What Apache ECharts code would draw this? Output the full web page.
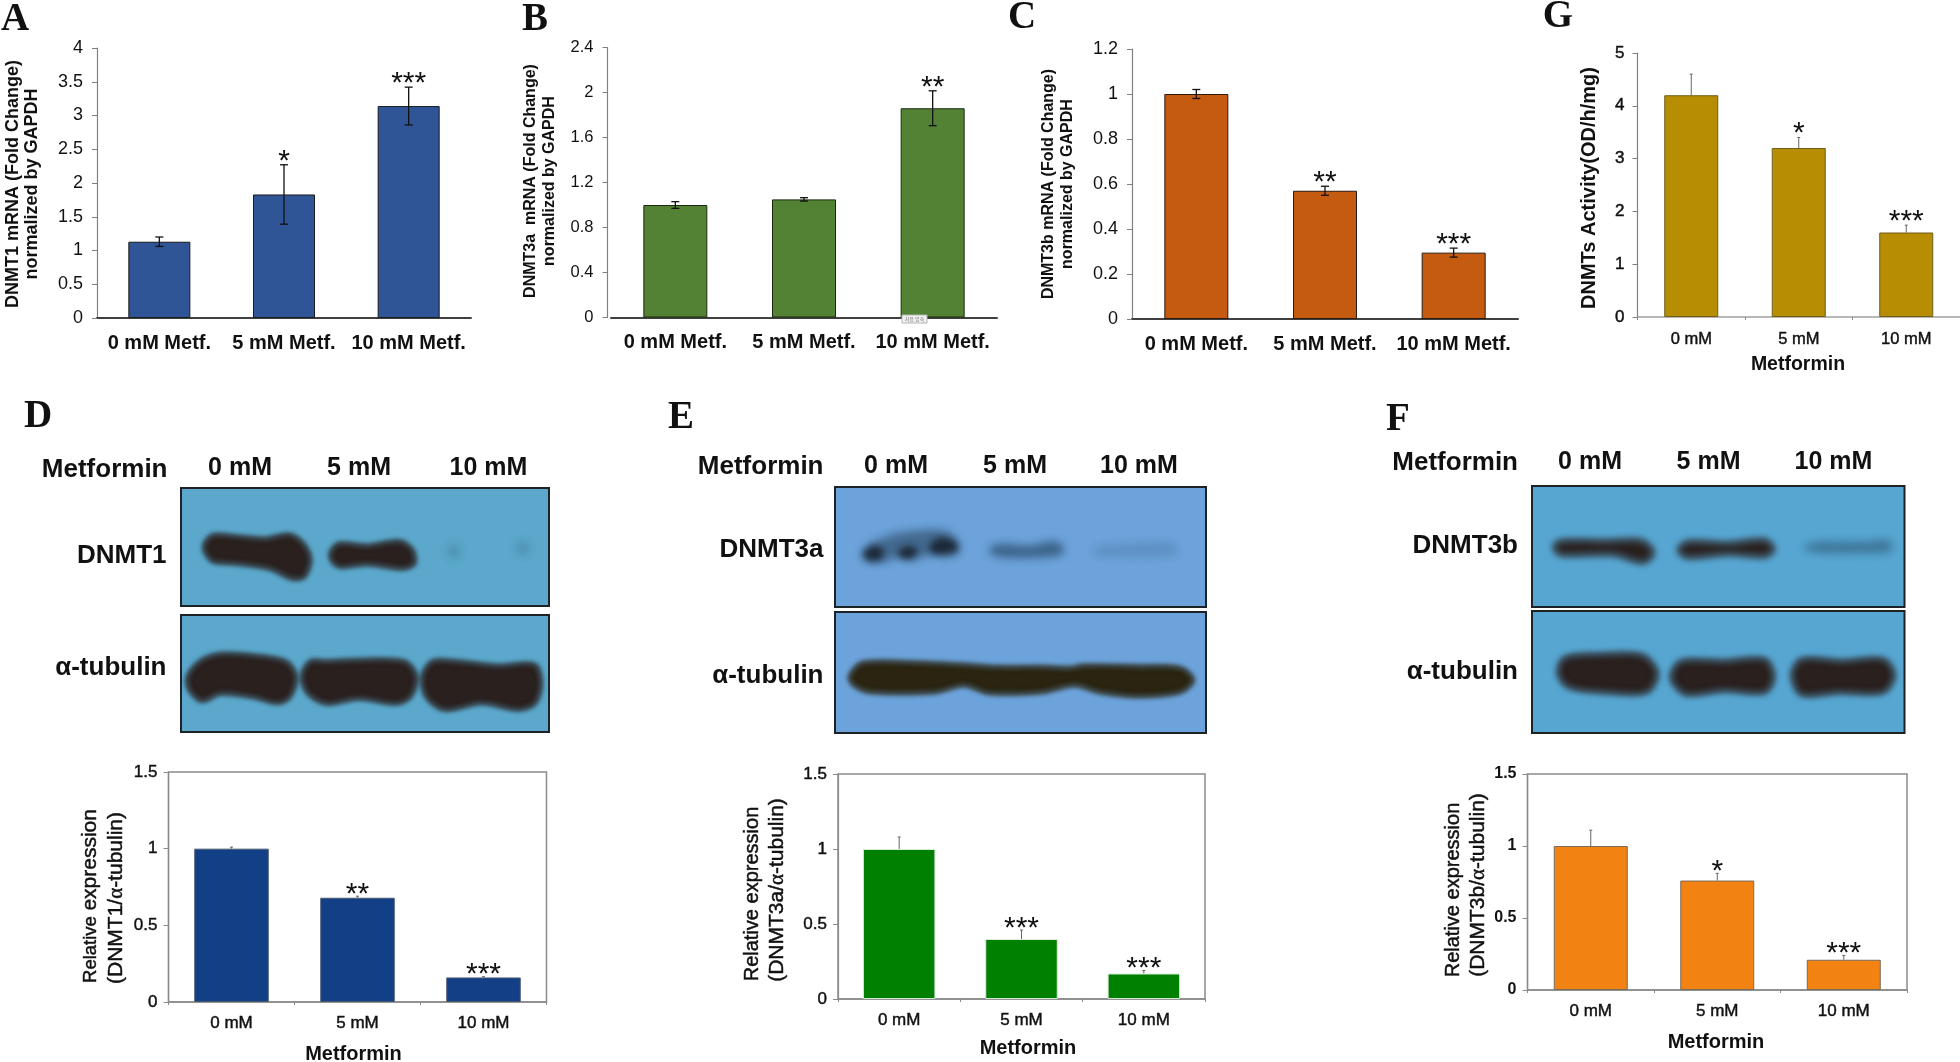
<!DOCTYPE html>
<html><head><meta charset="utf-8">
<style>html,body{margin:0;padding:0;background:#fff}#c{width:1960px;height:1062px}</style>
<script src="https://cdn.jsdelivr.net/npm/echarts@6/dist/echarts.min.js"></script>
</head><body><div id="c"></div>
<script>
// ---- data ----
const catsMetf = ['0 mM Metf.', '5 mM Metf.', '10 mM Metf.'];
const catsMM = ['0 mM', '5 mM', '10 mM'];
const valuesA = [1.13, 1.83, 3.14];
const errorsA = [0.07, 0.44, 0.28];
const starsA = ['', '*', '***'];
const valuesB = [1.0, 1.05, 1.86];
const errorsB = [0.03, 0.015, 0.155];
const starsB = ['', '', '**'];
const valuesC = [1.0, 0.57, 0.295];
const errorsC = [0.02, 0.02, 0.02];
const starsC = ['', '**', '***'];
const valuesG = [4.2, 3.2, 1.6];
const errorsG = [0.4, 0.2, 0.14];
const starsG = ['', '*', '***'];
const valuesD = [1.0, 0.68, 0.16];
const errorsD = [0.01, 0.01, 0.005];
const starsD = ['', '**', '***'];
const valuesE = [1.0, 0.40, 0.17];
const errorsE = [0.08, 0.06, 0.02];
const starsE = ['', '***', '***'];
const valuesF = [1.0, 0.76, 0.21];
const errorsF = [0.11, 0.05, 0.03];
const starsF = ['', '*', '***'];

const SANS = '"Liberation Sans", Arial, sans-serif';
const SERIF = '"Liberation Serif", "Times New Roman", serif';
const SEMI = 0.45;

const panels = [
 {cats:catsMetf,v:valuesA,e:errorsA,s:starsA,l:97,t:48,w:374,h:270,max:4,step:0.5,color:'#2F5597',bw:62,border:'#1a1a1a',both:true,capH:4,errC:'#111',errW:1.3,gap:10,
  lab:{size:20,weight:'bold',margin:15},tick:{size:18,margin:14},box:false,xTick:false,xLine:{c:'#404040',w:2},yLine:'#808080',yOff:0},
 {cats:catsMetf,v:valuesB,e:errorsB,s:starsB,l:611,t:47.5,w:386,h:270,max:2.4,step:0.4,color:'#548235',bw:64,border:'#1a2a10',both:true,capH:4,errC:'#111',errW:1.3,gap:10,
  lab:{size:20,weight:'bold',margin:15},tick:{size:16.5,margin:14},box:false,xTick:false,xLine:{c:'#404040',w:2},yLine:'#808080',yOff:3.5},
 {cats:catsMetf,v:valuesC,e:errorsC,s:starsC,l:1132,t:49,w:386,h:270,max:1.2,step:0.2,color:'#C55A11',bw:64,border:'#2a1a10',both:true,capH:4,errC:'#111',errW:1.3,gap:10,
  lab:{size:20,weight:'bold',margin:15},tick:{size:18,margin:14},box:false,xTick:false,xLine:{c:'#404040',w:2},yLine:'#808080',yOff:0},
 {cats:catsMM,v:valuesG,e:errorsG,s:starsG,l:1637.5,t:53,w:322.5,h:264,max:5,step:1,color:'#B78E03',bw:54,border:'#6d5c1a',both:false,capH:1.5,errC:'#666',errW:1,gap:10,
  lab:{size:16.5,weight:'normal',margin:14,semi:true},tick:{size:17,margin:13,semi:true},box:false,xTick:true,xLine:{c:'#a0a0a0',w:1.5},yLine:'#808080',yOff:0},
 {cats:catsMM,v:valuesD,e:errorsD,s:starsD,l:168.5,t:772,w:378,h:230,max:1.5,step:0.5,color:'#123F86',bw:74.5,border:'#4a5a70',both:false,capH:1.5,errC:'#666',errW:1,gap:8,
  lab:{size:17,weight:'normal',margin:13,semi:true},tick:{size:17,margin:11,semi:true},box:true,xTick:true,xLine:{c:'#8a8a8a',w:1.5},yLine:'#8a8a8a',yOff:0},
 {cats:catsMM,v:valuesE,e:errorsE,s:starsE,l:838,t:774,w:367,h:225,max:1.5,step:0.5,color:'#008000',bw:72.5,border:'#d8ead8',both:false,capH:1.5,errC:'#666',errW:1,gap:8,
  lab:{size:17,weight:'normal',margin:13,semi:true},tick:{size:17,margin:11,semi:true},box:true,xTick:true,xLine:{c:'#8a8a8a',w:1.5},yLine:'#8a8a8a',yOff:0},
 {cats:catsMM,v:valuesF,e:errorsF,s:starsF,l:1527.5,t:774,w:379.5,h:216,max:1.5,step:0.5,color:'#F28212',bw:74,border:'#7a6a5a',both:false,capH:1.5,errC:'#666',errW:1,gap:8,
  lab:{size:17,weight:'normal',margin:13,semi:true},tick:{size:16,margin:11,weight:'bold'},box:true,xTick:true,xLine:{c:'#8a8a8a',w:1.5},yLine:'#8a8a8a',yOff:0}
];

const grid=[],xAxis=[],yAxis=[],series=[];
panels.forEach((p,i)=>{
  grid.push({left:p.l,top:p.t,width:p.w,height:p.h,containLabel:false,outerBoundsMode:'none',
    show:p.box,borderColor:'#8a8a8a',borderWidth:1.5,backgroundColor:'transparent'});
  xAxis.push({type:'category',gridIndex:i,data:p.cats,
    axisLine:{show:true,lineStyle:{color:p.xLine.c,width:p.xLine.w}},
    axisTick:{show:p.xTick,length:3,lineStyle:{color:'#8a8a8a'},alignWithLabel:false},
    axisLabel:{interval:0,margin:p.lab.margin,color:'#111',fontFamily:SANS,fontSize:p.lab.size,fontWeight:p.lab.weight,
      textBorderColor:'#111',textBorderWidth:p.lab.semi?SEMI:0},
    splitLine:{show:false}});
  yAxis.push({type:'value',gridIndex:i,min:0,max:p.max,interval:p.step,offset:p.yOff,
    axisLine:{show:true,lineStyle:{color:p.yLine,width:1.2}},
    axisTick:{show:true,length:5,lineStyle:{color:p.yLine}},
    axisLabel:{margin:p.tick.margin,color:'#111',fontFamily:SANS,fontSize:p.tick.size,fontWeight:p.tick.weight||'normal',showMinLabel:true,showMaxLabel:true,hideOverlap:false,
      textBorderColor:'#111',textBorderWidth:p.tick.semi?SEMI:0,
      formatter:v=>String(+v.toFixed(1))},
    splitLine:{show:false}});
  series.push({type:'bar',xAxisIndex:i,yAxisIndex:i,data:p.v,barWidth:p.bw,silent:true,animation:false,
    itemStyle:{color:p.color,borderColor:p.border,borderWidth:1}});
  series.push({type:'custom',xAxisIndex:i,yAxisIndex:i,z:5,silent:true,animation:false,
    data:p.v.map((v,k)=>[k,v,p.e[k]]),encode:{x:0,y:1},
    renderItem:(params,api)=>{
      const k=api.value(0),v=api.value(1),e=api.value(2);
      const top=api.coord([k,v+e]);
      const low=api.coord([k,p.both?v-e:v]);
      const x=top[0];
      const ls={stroke:p.errC,lineWidth:p.errW};
      const kids=[{type:'line',shape:{x1:x,y1:top[1],x2:x,y2:low[1]},style:ls},
        {type:'line',shape:{x1:x-p.capH,y1:top[1],x2:x+p.capH,y2:top[1]},style:ls}];
      if(p.both)kids.push({type:'line',shape:{x1:x-p.capH,y1:low[1],x2:x+p.capH,y2:low[1]},style:ls});
      const st=p.s[params.dataIndex];
      if(st)kids.push({type:'text',style:{text:st,x:x,y:top[1]-p.gap+6.5,align:'center',verticalAlign:'middle',
        font:'30px '+SANS,fill:'#111'}});
      return {type:'group',children:kids};
    }});
});

// ---- decoration and free text ----
const g=[];
function txt(text,x,y,size,o){o=o||{};const st={text:text,
  align:o.align||'center',verticalAlign:'middle',font:(o.weight||'normal')+' '+size+'px '+(o.family||SANS),fill:o.fill||'#111',rich:o.rich};
  if(o.semi){st.stroke='#111';st.lineWidth=SEMI;}
  g.push({type:'text',x:x,y:y,rotation:o.rot||0,z:20,silent:true,style:st});}
const R=Math.PI/2;
// panel letters
[['A',15,20],['B',535,20],['C',1022,18],['G',1558,17],['D',38,417],['E',681,418],['F',1398,420]].forEach(a=>
  txt(a[0],a[1],a[2],39,{weight:'bold',family:SERIF}));
// y titles of A-C, G
txt('DNMT1 mRNA (Fold Change)',13,184,18,{rot:R,weight:'bold'});
txt('normalized by GAPDH',32,184,18,{rot:R,weight:'bold'});
txt('DNMT3a  mRNA (Fold Change)',531,181,16,{rot:R,weight:'bold'});
txt('normalized by GAPDH',550,181,16,{rot:R,weight:'bold'});
txt('DNMT3b mRNA (Fold Change)',1049,184,16,{rot:R,weight:'bold'});
txt('normalized by GAPDH',1068,184,16,{rot:R,weight:'bold'});
txt('DNMTs Activity(OD/h/mg)',1589,188,20,{rot:R,weight:'bold'});
// x titles
txt('Metformin',1798,365,19.5,{weight:'bold'});
txt('Metformin',353.5,1054,20,{weight:'bold'});
txt('Metformin',1028,1048,20,{weight:'bold'});
txt('Metformin',1716,1042,20,{weight:'bold'});
// y titles of D-F
const semiRich=(fam,s)=>({fontFamily:fam,fontSize:s,fill:'#111',stroke:'#111',lineWidth:SEMI});
const richD={s:semiRich(SANS,18.5),b:semiRich(SANS,21),a:semiRich(SERIF,21)};
const richL={b:semiRich(SANS,20)};
txt('{s|Relative} {b|expression}',90.5,896,20,{rot:R,rich:richD});
txt('{b|(DNMT1/}{a|α}{b|-tubulin)}',116,898,20,{rot:R,rich:richD});
txt('{b|Relative expression}',752,894,20,{rot:R,rich:richL});
txt('{b|(DNMT3a/}{a|α}{b|-tubulin)}',777,890,20,{rot:R,rich:richD});
txt('{b|Relative expression}',1453.5,890,20,{rot:R,rich:richL});
txt('{b|(DNMT3b/}{a|α}{b|-tubulin)}',1478.5,885,20,{rot:R,rich:richD});
// blot headings
function heads(mx,my,c,cy,lab,labR,ly1,ly2){
  txt('Metformin',mx,my,26,{align:'right',weight:'bold'});
  ['0 mM','5 mM','10 mM'].forEach((t,i)=>txt(t,c[i],cy,25,{weight:'bold'}));
  txt(lab,labR,ly1,26,{align:'right',weight:'bold'});
  txt('α-tubulin',labR,ly2,26,{align:'right',weight:'bold'});
}
heads(167.5,470,[240,359,488.5],468,'DNMT1',166.5,556,668);
heads(823.5,467,[896,1015,1139],466,'DNMT3a',823.5,550,676);
heads(1518,463,[1590,1708.5,1833.5],462,'DNMT3b',1518,546,672);
// blot frames
function frame(x0,x1,y0,y1,fill){g.push({type:'rect',z:10,silent:true,shape:{x:x0,y:y0,width:x1-x0,height:y1-y0},style:{fill:fill,stroke:'#1c2226',lineWidth:2}});}
frame(181,549,488,606,'#5BA8CC');frame(181,549,615,732,'#5BA8CC');
frame(835,1206,487,607,'#6CA3DA');frame(835,1206,612,733,'#6CA3DA');
frame(1532,1904.5,486,607,'#57A6D2');frame(1532,1904.5,611,733,'#57A6D2');
// blot bands, given in the zoomed crop's coordinates (x/2.45, y/3).
// Each shape sits off-canvas and only its blurred shadow lands on the film.
const OFF=3000;
function band(ox,oy,pts,o){o=o||{};const c=o.c||'#2a201e';g.push({type:'polygon',z:11,silent:true,
  shape:{points:pts.map(p=>[ox+p[0]/2.45-OFF,oy+p[1]/3]),smooth:0.3},
  style:{fill:c,stroke:c,lineWidth:o.lw==null?3:o.lw,opacity:o.op==null?1:o.op,shadowBlur:o.blur||5,shadowColor:c,shadowOffsetX:OFF}});}
const DO=[0,390],EO=[650,390],FO=[1320,390];
band(...DO,[[500,470],[520,437],[580,440],[650,447],[710,435],[745,465],[760,510],[745,560],[715,565],[660,535],[580,520],[520,512]]);
band(...DO,[[810,490],[830,462],[900,468],[980,455],[1010,480],[1015,520],[990,535],[900,522],[835,530],[815,515]]);
band(...DO,[[1100,480],[1112,470],[1125,485],[1112,500]],{op:.4,blur:10,c:'#33566a',lw:1});
band(...DO,[[1268,470],[1280,460],[1292,475],[1280,490]],{op:.4,blur:10,c:'#33566a',lw:1});
band(...DO,[[460,860],[490,815],[540,793],[620,797],[700,815],[725,860],[710,920],[680,938],[620,920],[540,910],[495,932],[465,900]]);
band(...DO,[[740,860],[760,815],[800,815],[840,812],[990,815],[1020,860],[1005,920],[970,940],[880,925],[800,940],[755,910]]);
band(...DO,[[1035,860],[1060,815],[1120,815],[1220,828],[1310,825],[1325,880],[1310,940],[1270,958],[1180,938],[1090,958],[1045,920]]);
band(...EO,[[525,490],[550,462],[585,445],[610,435],[720,428],[755,470],[740,492],[680,490],[640,505],[610,495],[570,510],[535,510]],{op:.5,c:'#1e3348',blur:8});
band(...EO,[[525,490],[545,470],[570,480],[565,505],[535,508]],{op:.9,c:'#1a2430',blur:6,lw:1});
band(...EO,[[610,485],[630,470],[655,480],[640,502],[615,500]],{op:.9,c:'#1a2430',blur:6,lw:1});
band(...EO,[[685,470],[710,445],[745,455],[750,480],[700,490]],{op:.9,c:'#1a2430',blur:6,lw:1});
band(...EO,[[835,480],[860,468],[930,475],[990,460],[1010,480],[990,493],[860,495]],{op:.6,c:'#1e3a55',blur:8});
band(...EO,[[1090,478],[1150,470],[1280,465],[1285,490],[1100,492]],{op:.15,c:'#1e3a55',blur:10});
band(...EO,[[490,860],[520,820],[640,818],[770,825],[850,832],[960,832],[1030,835],[1060,828],[1200,830],[1300,835],[1330,870],[1300,905],[1200,918],[1100,905],[1040,885],[960,905],[830,908],[770,885],[700,905],[540,905],[500,885]],{c:'#2a2410'});
band(...FO,[[575,470],[590,455],[700,455],[790,455],[815,490],[790,515],[720,492],[590,492]],{blur:7});
band(...FO,[[880,480],[900,458],[1000,462],[1090,452],[1110,478],[1090,497],[1000,490],[900,500]],{blur:7});
band(...FO,[[1190,472],[1230,462],[1340,462],[1390,455],[1395,480],[1340,482],[1230,482]],{op:.45,c:'#23455c',blur:8});
band(...FO,[[585,850],[600,805],[680,795],[790,798],[825,850],[800,905],[700,905],[610,890]],{blur:6});
band(...FO,[[862,855],[885,815],[990,815],[1090,810],[1110,860],[1090,905],[990,900],[900,912],[870,885]],{blur:6});
band(...FO,[[1158,855],[1180,810],[1280,815],[1380,810],[1405,855],[1380,905],[1270,905],[1180,912]],{blur:6});
// small stray stamp beneath panel B's third bar
g.push({type:'rect',z:12,silent:true,shape:{x:902,y:315,width:25,height:8},style:{fill:'#f2f2f2',stroke:'#b5b5b5',lineWidth:1}});
txt('처음 압축',914.5,319.5,5,{fill:'#777',family:'"Noto Sans CJK KR"'});

const chart=echarts.init(document.getElementById('c'),null,{renderer:'canvas',width:1960,height:1062});
chart.setOption({animation:false,backgroundColor:'#fff',grid,xAxis,yAxis,series,graphic:{elements:g},tooltip:{show:false},legend:{show:false}});
</script></body></html>
